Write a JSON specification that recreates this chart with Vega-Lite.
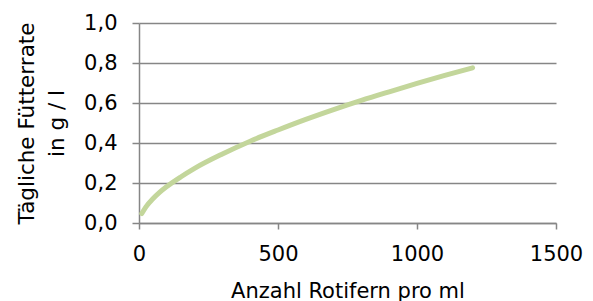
{
  "$schema": "https://vega.github.io/schema/vega-lite/v6.json",
  "autosize": "none",
  "width": 417,
  "height": 200,
  "padding": {"left": 139, "top": 23, "right": 37, "bottom": 78},
  "background": "white",
  "config": {
    "view": {"stroke": null},
    "font": "DejaVu Sans"
  },
  "data": {
    "values": [
      {"x": 10, "y": 0.047},
      {"x": 25, "y": 0.081},
      {"x": 50, "y": 0.121},
      {"x": 75, "y": 0.154},
      {"x": 100, "y": 0.182},
      {"x": 150, "y": 0.230},
      {"x": 200, "y": 0.273},
      {"x": 300, "y": 0.345},
      {"x": 400, "y": 0.409},
      {"x": 500, "y": 0.465},
      {"x": 600, "y": 0.518},
      {"x": 700, "y": 0.567},
      {"x": 800, "y": 0.613},
      {"x": 900, "y": 0.656},
      {"x": 1000, "y": 0.698},
      {"x": 1100, "y": 0.738},
      {"x": 1200, "y": 0.776}
    ]
  },
  "mark": {"type": "line", "color": "#c3d69b", "strokeWidth": 5, "strokeCap": "round", "interpolate": "monotone"},
  "encoding": {
    "x": {
      "field": "x", "type": "quantitative",
      "scale": {"domain": [0, 1500], "nice": false, "zero": true},
      "axis": {
        "values": [0, 500, 1000, 1500],
        "format": "d",
        "grid": false,
        "title": "Anzahl Rotifern pro ml",
        "domainColor": "#868686", "domainWidth": 1.5,
        "tickColor": "#868686", "tickWidth": 1.5, "tickSize": 6,
        "labelFontSize": 21, "labelColor": "#000000", "labelPadding": 14,
        "labelFlush": false,
        "titleFontSize": 21, "titleFontWeight": "normal", "titleColor": "#000000", "titlePadding": 16
      }
    },
    "y": {
      "field": "y", "type": "quantitative",
      "scale": {"domain": [0, 1], "nice": false},
      "axis": {
        "values": [0, 0.2, 0.4, 0.6, 0.8, 1.0],
        "labelExpr": "replace(format(datum.value, '.1f'), '.', ',')",
        "grid": true, "gridColor": "#868686", "gridWidth": 1.5,
        "domainColor": "#868686", "domainWidth": 1.5,
        "tickColor": "#868686", "tickWidth": 1.5, "tickSize": 7,
        "labelFontSize": 21, "labelColor": "#000000", "labelPadding": 15,
        "labelFlush": false,
        "title": ["Tägliche Fütterrate", "in g / l"],
        "titleFontSize": 21.5, "titleFontWeight": "normal", "titleColor": "#000000",
        "titleAngle": -90, "titleAlign": "center", "titleBaseline": "middle",
        "titleX": -112, "titleY": 100, "titleLineHeight": 30
      }
    }
  }
}
